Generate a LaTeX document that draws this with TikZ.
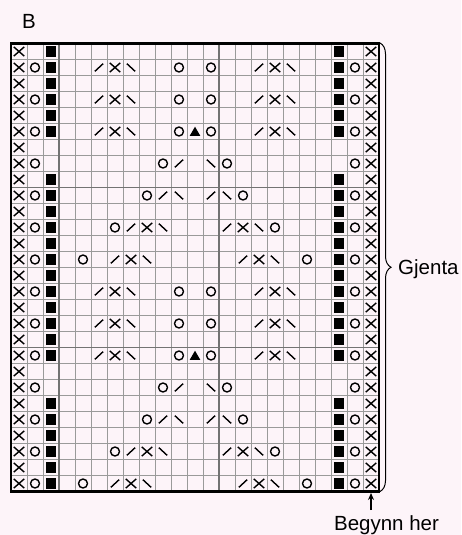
\documentclass[tikz,border=0pt]{standalone}
\usepackage{fontspec}
\setmainfont{Liberation Sans}
\usetikzlibrary{decorations.pathreplacing,arrows.meta}
\definecolor{bgpink}{HTML}{FDF4F9}
\definecolor{gridgray}{HTML}{9A9A9A}
\definecolor{divgray}{HTML}{737373}
\newcommand\putsym[3]{\pic at ({#2-0.5},{#3-0.5}) {#1};}
\begin{document}
\begin{tikzpicture}[x=1pt,y=-1pt,
  sym/.style={line width=1.4pt, black, line cap=butt},
  lbl/.style={font=\fontsize{20.5}{24}\selectfont, inner sep=0pt, text=black},
  thingrid/.style={gridgray, line width=0.8pt},
  divline/.style={divgray, line width=1.3pt},
  kx/.pic={\draw[sym] (-0.33,-0.29)--(0.33,0.29) (-0.33,0.29)--(0.33,-0.29);},
  ko/.pic={\draw[sym] (0,0) circle[radius=0.28];},
  ksq/.pic={\fill[black] (-0.33,-0.33) rectangle (0.33,0.33);},
  kl/.pic={\draw[sym] (-0.26,0.24)--(0.26,-0.24);},
  kr/.pic={\draw[sym] (-0.26,-0.24)--(0.26,0.24);},
  ktri/.pic={\fill[black] (0,-0.3)--(0.33,0.27)--(-0.33,0.27)--cycle;}]
\fill[bgpink] (0,0) rectangle (461,535);
\useasboundingbox (0,0) rectangle (461,535);
\begin{scope}[shift={(11pt,-43.5pt)}, x=16pt, y=-16pt]
  \foreach \i in {0,...,23} \draw[thingrid] (\i,0)--(\i,28);
  \foreach \j in {0,...,28} \draw[thingrid] (0,\j)--(23,\j);
  \draw[divline] (3,0)--(3,28) (13,0)--(13,28) (0,9)--(23,9) (0,19)--(23,19);
  % edge columns
  \foreach \r in {1,...,28} {\putsym{kx}{1}{\r} \putsym{kx}{23}{\r}}
  \foreach \r in {2,4,...,28} {\putsym{ko}{2}{\r} \putsym{ko}{22}{\r}}
  \foreach \r in {1,2,3,4,5,6,9,10,11,12,13,14,15,16,17,18,19,20,23,24,25,26,27,28}
    {\putsym{ksq}{3}{\r} \putsym{ksq}{21}{\r}}
  % rows A and B
  \foreach \r in {2,4,6,16,18,20} {
    \putsym{kl}{6}{\r} \putsym{kx}{7}{\r} \putsym{kr}{8}{\r}
    \putsym{ko}{11}{\r} \putsym{ko}{13}{\r}
    \putsym{kl}{16}{\r} \putsym{kx}{17}{\r} \putsym{kr}{18}{\r}}
  \foreach \r in {6,20} {\putsym{ktri}{12}{\r}}
  % rows C
  \foreach \r in {8,22} {
    \putsym{ko}{10}{\r} \putsym{kl}{11}{\r} \putsym{kr}{13}{\r} \putsym{ko}{14}{\r}}
  % rows D
  \foreach \r in {10,24} {
    \putsym{ko}{9}{\r} \putsym{kl}{10}{\r} \putsym{kr}{11}{\r}
    \putsym{kl}{13}{\r} \putsym{kr}{14}{\r} \putsym{ko}{15}{\r}}
  % rows E
  \foreach \r in {12,26} {
    \putsym{ko}{7}{\r} \putsym{kl}{8}{\r} \putsym{kx}{9}{\r} \putsym{kr}{10}{\r}
    \putsym{kl}{14}{\r} \putsym{kx}{15}{\r} \putsym{kr}{16}{\r} \putsym{ko}{17}{\r}}
  % rows F
  \foreach \r in {14,28} {
    \putsym{ko}{5}{\r} \putsym{kl}{7}{\r} \putsym{kx}{8}{\r} \putsym{kr}{9}{\r}
    \putsym{kl}{15}{\r} \putsym{kx}{16}{\r} \putsym{kr}{17}{\r} \putsym{ko}{19}{\r}}
  \draw[black, line width=2.6pt] (0,0) rectangle (23,28);
\end{scope}
% labels
\node[lbl, anchor=base] (title) at (29,28.3) {B};
\node[lbl, anchor=base west] (repeat) at (398,274.5) {Gjenta};
\node[lbl, anchor=base] (start) at (386.5,530.5) {Begynn her};
% brace
\coordinate (bracetop) at (380,43);
\coordinate (bracebot) at (380,491.5);
\draw[black, line width=1pt, decorate, decoration={brace, amplitude=11pt}] (bracetop)--(bracebot);
% start arrow
\coordinate (arrowtail) at (371,510);
\coordinate (arrowtip) at (371,493);
\draw[black, line width=1.2pt, -{Stealth[length=7pt,width=6pt]}] (arrowtail)--(arrowtip);
\end{tikzpicture}
\end{document}
